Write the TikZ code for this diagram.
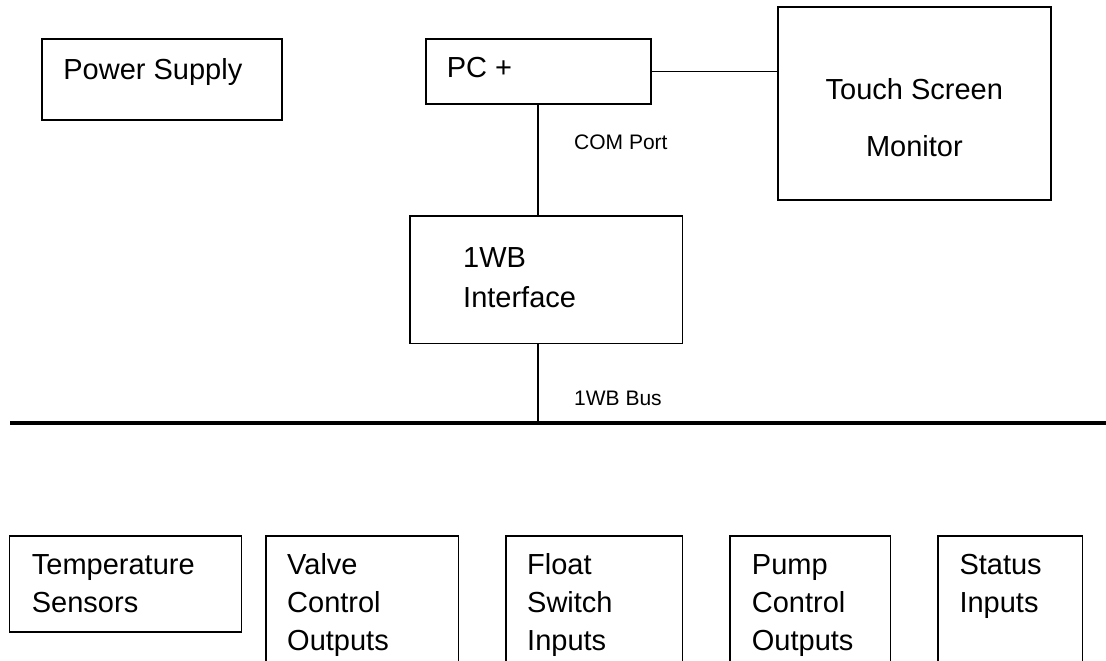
\documentclass[tikz,border=0pt]{standalone}
\usepackage{fontspec}
\setmainfont{Liberation Sans}
\begin{document}
\begin{tikzpicture}[x=1pt, y=-1pt,
  box/.style={draw, line width=1.6pt, inner sep=0pt, outer sep=0pt, anchor=north west},
  big/.style={font=\fontsize{29}{38.4}\selectfont, align=left, inner sep=0pt, anchor=north west},
  small/.style={font=\fontsize{21}{25}\selectfont, inner sep=0pt, anchor=base west},
  wire/.style={line width=1.6pt},
  bus/.style={line width=4pt}]
\useasboundingbox (0,0) rectangle (1106,661);
\clip (0,0) rectangle (1106,661);

% top row
\node[box, minimum width=240.3pt, minimum height=80.4pt] (ps) at (41.7,39.3) {};
\node[big] (pstext) at ([shift={(21.5,12.75)}]ps.north west) {\strut Power Supply};

\node[box, minimum width=225pt, minimum height=64.4pt] (pc) at (425.7,39.3) {};
\node[big] (pctext) at ([shift={(21,10.75)}]pc.north west) {\strut PC +};

\node[box, minimum width=272.7pt, minimum height=192.4pt] (ts) at (778,7.3) {};
\node[font=\fontsize{29}{56.7}\selectfont, align=center, inner sep=0pt, anchor=north]
  (tstext) at ([shift={(0,52.3)}]ts.north) {\strut Touch Screen\\Monitor};

% interface
\node[box, minimum width=272.3pt, minimum height=127.3pt] (ifc) at (410,216) {};
\node[font=\fontsize{29}{40}\selectfont, align=left, inner sep=0pt, anchor=north west]
  (ifctext) at ([shift={(53,23)}]ifc.north west) {\strut 1WB\\Interface};

% bus
\coordinate (busL) at (10,423);
\coordinate (busR) at (1106,423);
\draw[bus] (busL) -- (busR);

% connectors
\draw[wire] (pc.east) -- (pc.east -| ts.west);
\draw[wire] (pc.south) -- (pc.south |- ifc.north);
\draw[wire] (pc.south |- ifc.south) -- (pc.south |- busL);

\node[small] (com) at (574,149) {COM Port};
\node[small] (buslabel) at (574,405) {1WB Bus};

% devices on the bus
\node[box, minimum width=232pt, minimum height=96pt] (temp) at (9.3,535.7) {};
\node[big] (temptext) at ([shift={(22.4,11.4)}]temp.north west) {\strut Temperature\\Sensors};

\node[box, minimum width=192.6pt, minimum height=170pt] (valve) at (265.7,535.7) {};
\node[big] (valvetext) at ([shift={(21.3,11.4)}]valve.north west) {\strut Valve\\Control\\Outputs};

\node[box, minimum width=176.6pt, minimum height=170pt] (float) at (505.7,535.7) {};
\node[big] (floattext) at ([shift={(21.3,11.4)}]float.north west) {\strut Float\\Switch\\Inputs};

\node[box, minimum width=160.3pt, minimum height=170pt] (pump) at (730,535.7) {};
\node[big] (pumptext) at ([shift={(21.7,11.4)}]pump.north west) {\strut Pump\\Control\\Outputs};

\node[box, minimum width=144.3pt, minimum height=170pt] (status) at (938,535.7) {};
\node[big] (statustext) at ([shift={(21.3,11.4)}]status.north west) {\strut Status\\Inputs};
\end{tikzpicture}
\end{document}
